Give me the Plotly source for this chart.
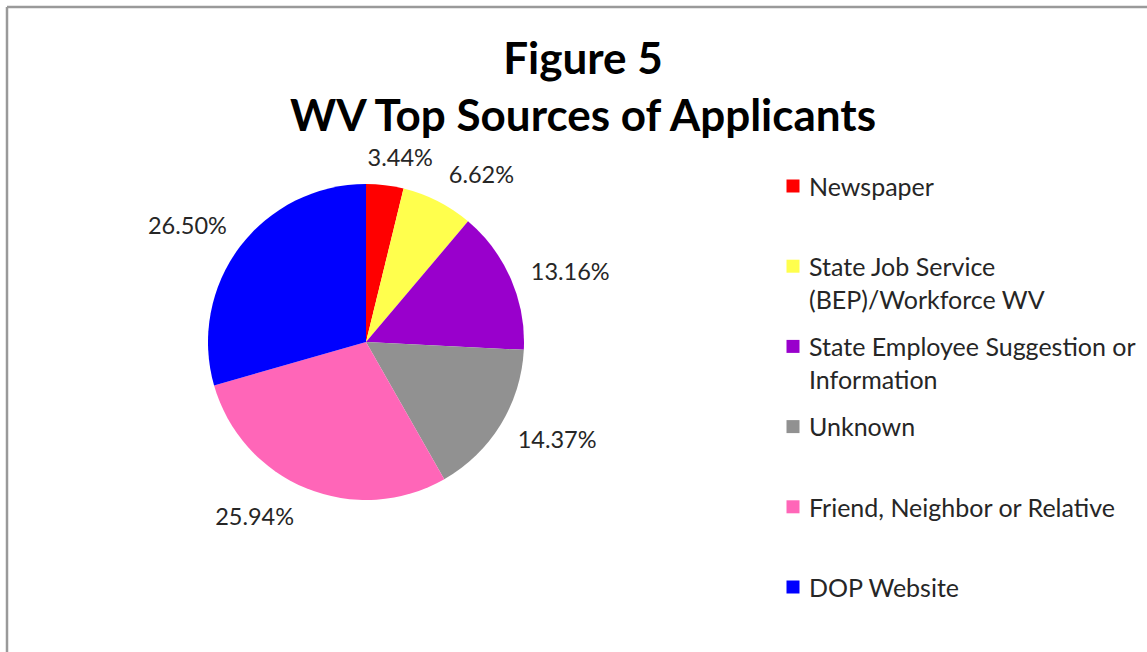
import plotly.graph_objects as go

# ---- data ----
categories = ["Newspaper", "State Job Service (BEP)/Workforce WV",
              "State Employee Suggestion or Information", "Unknown",
              "Friend, Neighbor or Relative", "DOP Website"]
legend_labels = ["Newspaper", "State Job Service<br>(BEP)/Workforce WV",
                 "State Employee Suggestion or<br>Information", "Unknown",
                 "Friend, Neighbor or Relative", "DOP Website"]
percent_values = [3.44, 6.62, 13.16, 14.37, 25.94, 26.50]
colors = ["#FF0000", "#FFFF4D", "#9900CC", "#919191", "#FF66B8", "#0000FF"]

W, H = 1147, 652
FONT = "Lato, Calibri, sans-serif"
TXT = "#262626"

pct_text = [f"{v:.2f}%" for v in percent_values]

cx, cy, r = 366, 342, 158
# per-label placement tweaks (pixels): extra radius, x shift, y shift (down)
label_pad = [14, 20, 14, 20, 14, 20]
label_dx = [-26, -5, 0, -7, 0, 10]
label_dy = [0, 2, 0, 0, 3, -5]

fig = go.Figure()
# visible pie (no text)
fig.add_trace(go.Pie(
    labels=categories,
    values=percent_values,
    text=pct_text,
    textinfo="none",
    marker=dict(colors=colors, line=dict(width=0)),
    sort=False,
    direction="clockwise",
    rotation=0,
    showlegend=False,
    domain=dict(x=[(cx - r) / W, (cx + r) / W], y=[1 - (cy + r) / H, 1 - (cy - r) / H]),
    hoverinfo="label+text",
))
# transparent twin pies, each carrying one outside label
for k in range(len(categories)):
    txt = [t if i == k else "" for i, t in enumerate(pct_text)]
    lr = r + label_pad[k]
    lx, ly = cx + label_dx[k], cy + label_dy[k]
    fig.add_trace(go.Pie(
        labels=categories,
        values=percent_values,
        text=txt,
        textinfo="text",
        textposition="outside",
        textfont=dict(family=FONT, size=23.5, color=TXT),
        marker=dict(colors=["rgba(0,0,0,0)"] * len(categories), line=dict(width=0)),
        sort=False,
        direction="clockwise",
        rotation=0,
        showlegend=False,
        domain=dict(x=[(lx - lr) / W, (lx + lr) / W],
                    y=[1 - (ly + lr) / H, 1 - (ly - lr) / H]),
        hoverinfo="skip",
    ))

# custom legend drawn on a hidden axis pair
n = len(categories)
fig.add_trace(go.Scatter(
    x=[0] * n,
    y=list(range(n)),
    mode="markers",
    marker=dict(symbol="square", size=13, color=colors, line=dict(width=0)),
    showlegend=False,
    hoverinfo="skip",
    cliponaxis=False,
))

LFS = 25
line_h = LFS * 1.3
annotations = []
for i, lab in enumerate(legend_labels):
    annotations.append(dict(
        x=0, y=i, xref="x", yref="y", text=lab, showarrow=False,
        xanchor="left", yanchor="top", align="left", xshift=14,
        yshift=line_h / 2 + 1,
        font=dict(family=FONT, size=LFS, color=TXT),
    ))

leg_top, leg_step = 186, 80.2
fig.update_layout(
    width=W, height=H,
    margin=dict(l=0, r=0, t=0, b=0),
    paper_bgcolor="white", plot_bgcolor="white",
    title=dict(
        text="<b>Figure 5<br>WV Top Sources of Applicants</b>",
        x=583 / W, xanchor="center", y=1 - 74 / H, yanchor="middle",
        yref="container", xref="container",
        font=dict(family=FONT, size=44, color="black"),
    ),
    xaxis=dict(domain=[773 / W, 1], range=[-20, W - 773 - 20], visible=False,
               fixedrange=True),
    yaxis=dict(domain=[1 - (leg_top + 5.5 * leg_step) / H, 1 - (leg_top - 0.5 * leg_step) / H],
               range=[5.5, -0.5], visible=False, fixedrange=True),
    annotations=annotations,
    shapes=[
        dict(type="line", xref="paper", yref="paper", x0=7 / W, x1=1, y0=1 - 7 / H, y1=1 - 7 / H,
             line=dict(color="#9a9a9a", width=2.5)),
        dict(type="line", xref="paper", yref="paper", x0=7 / W, x1=7 / W, y0=0, y1=1 - 7 / H,
             line=dict(color="#9a9a9a", width=2.5)),
    ],
)

fig.write_html("out.html", config={"displayModeBar": False},
               post_script="document.body.style.margin='0';")
